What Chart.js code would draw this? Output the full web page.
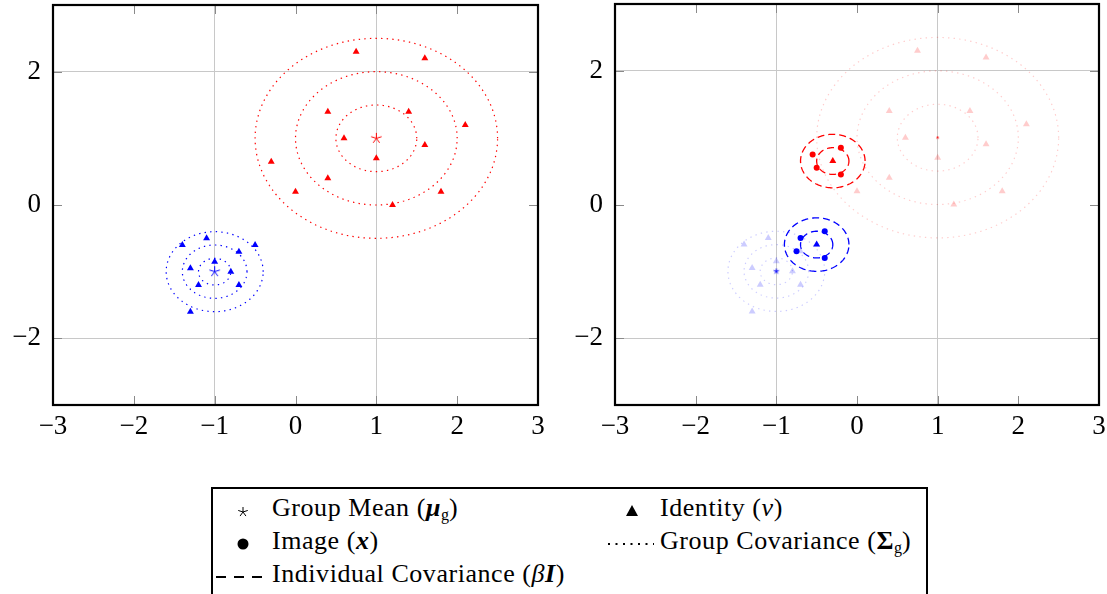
<!DOCTYPE html>
<html>
<head>
<meta charset="utf-8">
<script src="https://cdn.jsdelivr.net/npm/chart.js@4.4.1/dist/chart.umd.min.js"></script>
<style>
  body { margin: 0; background: #fff; width: 1107px; height: 594px; overflow: hidden; position: relative; }
  canvas { position: absolute; top: 0; }
  #legend {
    position: absolute; left: 211px; top: 487px; width: 717px; height: 122px;
    border: 2px solid #000; box-sizing: border-box;
    font-family: "Liberation Serif", "DejaVu Serif", serif; font-size: 26px; color: #000;
    letter-spacing: 0.55px;
  }
  #legend .item { position: absolute; white-space: nowrap; line-height: 1; }
  #legend svg { position: absolute; }
  #legend sub { font-size: 16px; vertical-align: -4px; letter-spacing: 0; }
</style>
</head>
<body>
<canvas id="left" width="553" height="450" style="left:0"></canvas>
<canvas id="right" width="547" height="450" style="left:560px"></canvas>

<div id="legend">
  <svg style="left:24px;top:17px" width="12" height="12" viewBox="-6 -6 12 12">
    <g stroke="#000" stroke-width="1"><line x1="0" y1="0" x2="0" y2="-5"/><line x1="0" y1="0" x2="4.76" y2="-1.55"/><line x1="0" y1="0" x2="2.94" y2="4.05"/><line x1="0" y1="0" x2="-2.94" y2="4.05"/><line x1="0" y1="0" x2="-4.76" y2="-1.55"/></g>
  </svg>
  <div class="item" style="left:59px;top:6px">Group Mean (<b><i>μ</i></b><sub>g</sub>)</div>

  <svg style="left:412px;top:16px" width="14" height="12"><polygon points="7,0 13,11 1,11" fill="#000"/></svg>
  <div class="item" style="left:447px;top:6px">Identity (<i>ν</i>)</div>

  <svg style="left:23px;top:48px" width="14" height="14"><circle cx="7" cy="7" r="5.5" fill="#000"/></svg>
  <div class="item" style="left:59px;top:39px">Image (<b><i>x</i></b>)</div>

  <svg style="left:394px;top:53px" width="48" height="4"><line x1="1" y1="2" x2="47" y2="2" stroke="#000" stroke-width="2" stroke-dasharray="2 5.5"/></svg>
  <div class="item" style="left:447px;top:39px">Group Covariance (<b>Σ</b><sub>g</sub>)</div>

  <svg style="left:3px;top:86px" width="50" height="4"><line x1="0" y1="2" x2="50" y2="2" stroke="#000" stroke-width="2.2" stroke-dasharray="10 8"/></svg>
  <div class="item" style="left:59px;top:72px">Individual Covariance (<i>β</i><b><i>I</i></b>)</div>
</div>

<script>
// axis setup
const xTicks = [-3, -2, -1, 0, 1, 2, 3];
const yTicks = [-2, 0, 2];
const xGridAt = [-1, 1];
const yGridAt = [-2, 2];

// group means
const redMean = [1, 1];
const blueMean = [-1, -1];

// identities per group
const redIdentities = [
  [0.75, 2.3], [1.6, 2.2], [0.4, 1.4], [1.4, 1.4], [2.1, 1.2], [0.6, 1.0], [1.6, 0.9],
  [1.0, 0.7], [-0.3, 0.65], [0.4, 0.4], [0.0, 0.2], [1.8, 0.2], [1.2, 0.0]
];
const blueIdentities = [
  [-1.1, -0.5], [-1.4, -0.6], [-0.5, -0.6], [-0.7, -0.7], [-1.0, -0.85],
  [-1.3, -0.95], [-0.8, -1.0], [-1.2, -1.2], [-0.7, -1.2], [-1.3, -1.6]
];

// group covariance contour radii
const redGroupRadii = [0.5, 1.0, 1.5];
const blueGroupRadii = [0.2, 0.4, 0.6];

// selected identity and its images (right panel)
const redIdentity = [-0.3, 0.65];
const redImages = [[-0.2, 0.85], [-0.55, 0.75], [-0.5, 0.55], [-0.2, 0.45]];
const blueIdentity = [-0.5, -0.6];
const blueImages = [[-0.4, -0.4], [-0.7, -0.5], [-0.75, -0.7], [-0.4, -0.8]];
const individualRadii = [0.2, 0.4];

const RED = "#ff0000", BLUE = "#0000ff";
const RED_FADED = "rgba(255,0,0,0.2)", BLUE_FADED = "rgba(0,0,255,0.2)";

const pts = arr => arr.map(p => ({ x: p[0], y: p[1] }));

function circle(c, r) {
  const out = [];
  for (let i = 0; i <= 180; i++) {
    const t = i / 180 * 2 * Math.PI;
    out.push({ x: c[0] + r * Math.cos(t), y: c[1] + r * Math.sin(t) });
  }
  return out;
}

// five-ray star mark
function starMark(color, r) {
  const s = Math.ceil(2 * r + 4);
  const c = document.createElement("canvas");
  c.width = s; c.height = s;
  const g = c.getContext("2d");
  g.strokeStyle = color; g.lineWidth = 1;
  for (let k = 0; k < 5; k++) {
    const a = -Math.PI / 2 + k * 2 * Math.PI / 5;
    g.beginPath();
    g.moveTo(s / 2, s / 2);
    g.lineTo(s / 2 + r * Math.cos(a), s / 2 + r * Math.sin(a));
    g.stroke();
  }
  return c;
}

function markers(data, color, style, radius) {
  return { type: "scatter", data: pts(data), pointStyle: style, pointRadius: radius,
           backgroundColor: color, borderColor: color, borderWidth: 0 };
}

function contours(center, radii, color, dash, width) {
  return radii.map(r => ({
    type: "line", data: circle(center, r), showLine: true, pointRadius: 0,
    borderColor: color, borderWidth: width, borderDash: dash, fill: false, tension: 0
  }));
}

const DOTTED = [1.4, 4.2];
const DASHED = [7, 4];

// frame and inner tick marks
const framePlugin = {
  id: "frame",
  afterDraw(chart) {
    const { ctx, chartArea: a, scales } = chart;
    ctx.save();
    ctx.strokeStyle = "#8a8a8a";
    ctx.lineWidth = 1;
    const len = 9;
    xTicks.slice(1, -1).forEach(v => {
      const px = Math.round(scales.x.getPixelForValue(v)) + 0.5;
      ctx.beginPath();
      ctx.moveTo(px, a.bottom); ctx.lineTo(px, a.bottom - len);
      ctx.moveTo(px, a.top); ctx.lineTo(px, a.top + len);
      ctx.stroke();
    });
    yTicks.forEach(v => {
      const py = Math.round(scales.y.getPixelForValue(v)) + 0.5;
      ctx.beginPath();
      ctx.moveTo(a.left, py); ctx.lineTo(a.left + len, py);
      ctx.moveTo(a.right, py); ctx.lineTo(a.right - len, py);
      ctx.stroke();
    });
    ctx.strokeStyle = "#000";
    ctx.lineWidth = 2.2;
    ctx.strokeRect(a.left, a.top, a.right - a.left, a.bottom - a.top);
    ctx.restore();
  }
};

const fmt = v => (v < 0 ? "\u2212" + Math.abs(v) : String(v));
const tickFont = { family: "'Liberation Serif', 'DejaVu Serif', serif", size: 27 };

function options(yWidth, padRight) {
  return {
    responsive: false,
    animation: false,
    layout: { padding: { top: 3, right: padRight, left: 0, bottom: 0 } },
    plugins: { legend: { display: false }, tooltip: { enabled: false } },
    scales: {
      x: {
        type: "linear", min: -3, max: 3,
        afterBuildTicks: s => { s.ticks = xTicks.map(v => ({ value: v })); },
        afterFit: s => { s.height = 45; s.paddingLeft = 0; s.paddingRight = 0; },
        grid: { drawTicks: false, lineWidth: 1,
                color: c => xGridAt.includes(c.tick && c.tick.value) ? "#c8c8c8" : "rgba(0,0,0,0)" },
        border: { display: false },
        ticks: { color: "#000", font: tickFont, padding: 6, maxRotation: 0, callback: fmt }
      },
      y: {
        type: "linear", min: -3, max: 3,
        afterBuildTicks: s => { s.ticks = yTicks.map(v => ({ value: v })); },
        afterFit: s => { s.width = yWidth; s.paddingTop = 0; s.paddingBottom = 0; },
        grid: { drawTicks: false, lineWidth: 1,
                color: c => yGridAt.includes(c.tick && c.tick.value) ? "#c8c8c8" : "rgba(0,0,0,0)" },
        border: { display: false },
        ticks: { color: "#000", font: tickFont, padding: 12, callback: fmt }
      }
    }
  };
}

// left panel: groups with their identities
new Chart(document.getElementById("left"), {
  type: "scatter",
  data: {
    datasets: [
      markers([redMean], RED, starMark(RED, 5.5), 5),
      markers([blueMean], BLUE, starMark(BLUE, 5.5), 5),
      markers(redIdentities, RED, "triangle", 4),
      markers(blueIdentities, BLUE, "triangle", 4),
      ...contours(redMean, redGroupRadii, RED, DOTTED, 1.2),
      ...contours(blueMean, blueGroupRadii, BLUE, DOTTED, 1.2)
    ]
  },
  options: options(53, 15),
  plugins: [framePlugin]
});

// right panel: images around selected identities
new Chart(document.getElementById("right"), {
  type: "scatter",
  data: {
    datasets: [
      markers([redIdentity], RED, "triangle", 4),
      markers([blueIdentity], BLUE, "triangle", 4),
      markers(redImages, RED, "circle", 3),
      markers(blueImages, BLUE, "circle", 3),
      ...contours(redIdentity, individualRadii, RED, DASHED, 1.3),
      ...contours(blueIdentity, individualRadii, BLUE, DASHED, 1.3),
      markers([redMean], RED, starMark(RED, 1.2), 1),
      markers([blueMean], BLUE, starMark(BLUE, 2.8), 3),
      markers(redIdentities, RED_FADED, "triangle", 4),
      markers(blueIdentities, BLUE_FADED, "triangle", 4),
      ...contours(redMean, redGroupRadii, RED_FADED, DOTTED, 1.2),
      ...contours(blueMean, blueGroupRadii, BLUE_FADED, DOTTED, 1.2)
    ]
  },
  options: options(55, 8),
  plugins: [framePlugin]
});
</script>
</body>
</html>
